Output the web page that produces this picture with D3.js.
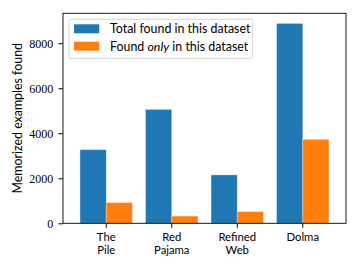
<!DOCTYPE html>
<html>
<head>
<meta charset="utf-8">
<script src="https://cdn.jsdelivr.net/npm/d3@7"></script>
<style>
  body { margin: 0; background: white; }
</style>
</head>
<body>
<div id="chart"></div>
<script>
let width = 360
let height = 270
let margin = {top: 13.3, right: 14, bottom: 46.7, left: 63}

// data
let datasets = [["The", "Pile"], ["Red", "Pajama"], ["Refined", "Web"], ["Dolma"]]
let totalFound = [3270, 5060, 2150, 8880]
let onlyFound = [920, 320, 520, 3730]
let yTicks = [0, 2000, 4000, 6000, 8000]

let svg = d3.select("#chart")
    .append("svg")
    .attr("width", width)
    .attr("height", height)

let x = d3.scaleBand()
    .domain(d3.range(datasets.length))
    .range([margin.left, width - margin.right])
    .paddingInner(0.2)
    .paddingOuter(0.26)

let y = d3.scaleLinear()
    .domain([0, 9330])
    .range([height - margin.bottom, margin.top])

let bw = x.bandwidth() / 2

// bars
svg.append("g")
    .selectAll("rect")
    .data(totalFound)
    .join("rect")
    .attr("x", (d, i) => x(i))
    .attr("y", d => y(d))
    .attr("width", bw)
    .attr("height", d => y(0) - y(d))
    .attr("fill", "#1f77b4")
    .attr("stroke", "rgba(255,255,255,0.4)")
    .attr("stroke-width", 0.8)

svg.append("g")
    .selectAll("rect")
    .data(onlyFound)
    .join("rect")
    .attr("x", (d, i) => x(i) + bw)
    .attr("y", d => y(d))
    .attr("width", bw)
    .attr("height", d => y(0) - y(d))
    .attr("fill", "#ff7f0e")
    .attr("stroke", "rgba(255,255,255,0.4)")
    .attr("stroke-width", 0.8)

// y axis
let yAxis = svg.append("g")
    .attr("transform", `translate(${margin.left},0)`)
    .call(d3.axisLeft(y).tickValues(yTicks).tickSize(4.5).tickPadding(5.2).tickFormat(d => d))
yAxis.select(".domain").remove()
yAxis.selectAll("text")
    .style("font-family", "'Liberation Serif', serif")
    .style("font-size", "12px")
    .attr("fill", "#000")

// x axis, two-line labels
let xAxis = svg.append("g")
    .attr("transform", `translate(0,${height - margin.bottom})`)
    .call(d3.axisBottom(x).tickSize(4.5).tickFormat(""))
xAxis.select(".domain").remove()
xAxis.selectAll(".tick text").remove()
xAxis.selectAll(".tick")
    .selectAll("text.lbl")
    .data((d, i) => datasets[i])
    .join("text")
    .attr("class", "lbl")
    .attr("text-anchor", "middle")
    .attr("fill", "#000")
    .style("font-family", "Lato, sans-serif")
    .style("font-size", "11.3px")
    .attr("x", 0)
    .attr("y", (d, i) => 17.6 + i * 13.6)
    .text(d => d)

// frame
svg.append("rect")
    .attr("x", margin.left)
    .attr("y", margin.top)
    .attr("width", width - margin.left - margin.right)
    .attr("height", height - margin.top - margin.bottom)
    .attr("fill", "none")
    .attr("stroke", "#000")
    .attr("stroke-width", 0.9)

// y label
svg.append("text")
    .attr("transform", `translate(22,${(margin.top + height - margin.bottom) / 2}) rotate(-90)`)
    .attr("text-anchor", "middle")
    .style("font-family", "Lato, sans-serif")
    .style("font-size", "12.4px")
    .text("Memorized examples found")

// legend
let legend = svg.append("g")
legend.append("rect")
    .attr("x", 69).attr("y", 19.3)
    .attr("width", 183.7).attr("height", 39)
    .attr("rx", 2)
    .attr("fill", "rgba(255,255,255,0.8)")
    .attr("stroke", "#ccc")
    .attr("stroke-width", 0.8)
let legendItems = [
    {color: "#1f77b4", parts: [["Total found in this dataset", "normal"]]},
    {color: "#ff7f0e", parts: [["Found ", "normal"], ["only", "italic"], [" in this dataset", "normal"]]}
]
legendItems.forEach(function (d, i) {
    let gy = 24.3 + i * 17.4
    legend.append("rect")
        .attr("x", 74).attr("y", gy)
        .attr("width", 25.3).attr("height", 9)
        .attr("fill", d.color)
    let t = legend.append("text")
        .attr("x", 110).attr("y", gy + 8.8)
        .style("font-family", "Lato, sans-serif")
        .style("font-size", "12.4px")
    t.selectAll("tspan").data(d.parts).join("tspan")
        .style("font-style", p => p[1])
        .text(p => p[0])
})
</script>
</body>
</html>
